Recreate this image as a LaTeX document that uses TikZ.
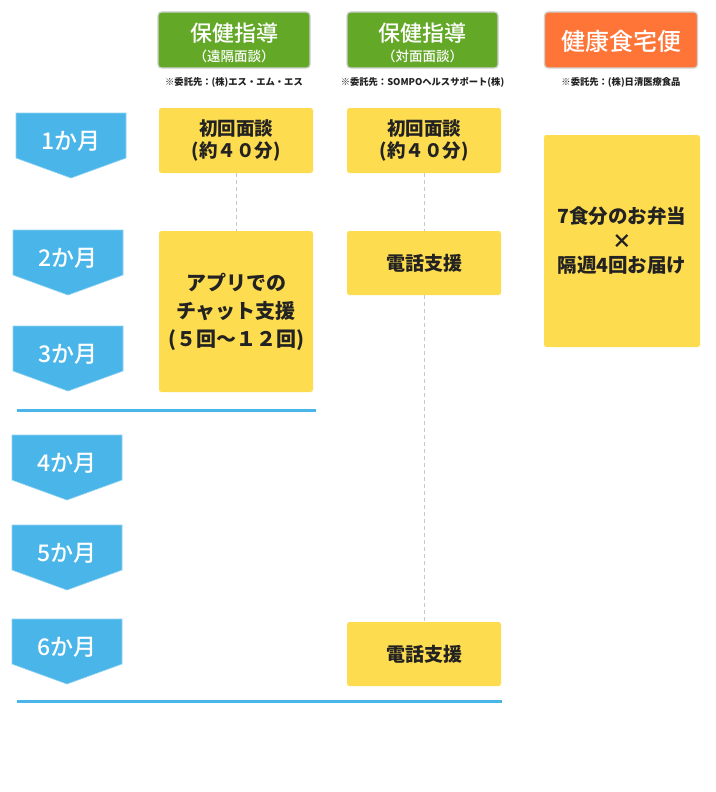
\documentclass[tikz,border=0pt]{standalone}
\usepackage{fontspec}
\setmainfont{Noto Sans CJK JP}
\newfontfamily\jpmed{Noto Sans CJK JP}[UprightFont=* Medium]
\definecolor{mblue}{HTML}{4AB5E8}
\definecolor{hgreen}{HTML}{63A827}
\definecolor{horange}{HTML}{FF7537}
\definecolor{byellow}{HTML}{FEDC50}
\definecolor{btext}{HTML}{222222}
\definecolor{hborder}{HTML}{D0D0D0}
\definecolor{dashgray}{HTML}{C8C8C8}
\newcommand\monthshape[4]{%
  \fill[mblue,draw=mblue!60!white,line width=0.6pt] (#2,#3) -- ++(110,0) -- ++(0,45) -- ++(-55,20) -- ++(-55,-20) -- cycle;
  \node[monthtext] (#1) at (#2+55,#3+28) {#4};}
\begin{document}
\begin{tikzpicture}[x=1pt,y=-1pt,
  ybox/.style={fill=byellow,rounded corners=2.5pt,inner sep=0pt,text=btext,align=center},
  hbox/.style={rounded corners=3.5pt,draw=hborder,line width=1.2pt,inner sep=0pt,minimum height=56pt},
  htitle/.style={text=white,inner sep=0pt,font=\fontsize{22}{25}\selectfont\jpmed},
  hsub/.style={text=white,inner sep=0pt,font=\fontsize{13.5}{15}\selectfont\jpmed},
  fnote/.style={text=btext,inner sep=0pt,font=\fontsize{9.3}{11}\selectfont\bfseries},
  monthtext/.style={text=white,inner sep=0pt,font=\fontsize{23}{26}\selectfont\jpmed},
  dconn/.style={draw=dashgray,line width=0.8pt,dash pattern=on 4pt off 3pt},
  bline/.style={draw=mblue,line width=3pt}]
\useasboundingbox[fill=white] (0,0) rectangle (715,792);
% headers
\node[hbox,fill=hgreen,minimum width=152pt] (h1) at (234,40) {};
\node[htitle] (h1t) at (234,33) {保健指導};
\node[hsub] (h1s) at (234,56) {（遠隔面談）};
\node[hbox,fill=hgreen,minimum width=151pt] (h2) at (422.5,40) {};
\node[htitle] (h2t) at (422.5,33) {保健指導};
\node[hsub] (h2s) at (422.5,56) {（対面面談）};
\node[hbox,fill=horange,minimum width=153pt] (h3) at (621,40) {};
\node[htitle,font=\fontsize{24}{27}\selectfont\jpmed] (h3t) at (621,41) {健康食宅便};
\node[fnote] (f1) at (234,82) {※委託先：(株)エス・エム・エス};
\node[fnote] (f2) at (422.5,82) {※委託先：SOMPOヘルスサポート(株)};
\node[fnote] (f3) at (621,82) {※委託先：(株)日清医療食品};
% months
\monthshape{m1}{16}{113}{1か月}
\monthshape{m2}{13}{230}{2か月}
\monthshape{m3}{13}{326}{3か月}
\monthshape{m4}{12}{435}{4か月}
\monthshape{m5}{12}{525}{5か月}
\monthshape{m6}{12}{619}{6か月}
% yellow boxes
\node[ybox,minimum width=154pt,minimum height=65pt,font=\fontsize{18.5}{22}\selectfont\bfseries] (c1a) at (236,140.5) {初回面談\\(約４０分)};
\node[ybox,minimum width=154pt,minimum height=65pt,font=\fontsize{18.5}{22}\selectfont\bfseries] (c2a) at (424,140.5) {初回面談\\(約４０分)};
\node[ybox,minimum width=154pt,minimum height=161pt,font=\fontsize{20}{28}\selectfont\bfseries] (app) at (236,311.5) {アプリでの\\チャット支援\\(５回〜１２回)};
\node[ybox,minimum width=154pt,minimum height=64pt,font=\fontsize{19}{22}\selectfont\bfseries] (tel1) at (424,263) {電話支援};
\node[ybox,minimum width=154pt,minimum height=64pt,font=\fontsize{19}{22}\selectfont\bfseries] (tel2) at (424,654) {電話支援};
\node[ybox,minimum width=156pt,minimum height=212pt,font=\fontsize{19.5}{24.5}\selectfont\bfseries] (meal) at (622,241) {7食分のお弁当\\×\\隔週4回お届け};
% dashed connectors
\draw[dconn] (c1a.south) -- (app.north);
\draw[dconn] (c2a.south) -- (tel1.north);
\draw[dconn] (tel1.south) -- (tel2.north);
% blue separator lines
\coordinate (l1a) at (17,410);
\coordinate (l1b) at (316,410);
\coordinate (l2a) at (17,701);
\coordinate (l2b) at (502,701);
\draw[bline] (l1a) -- (l1b);
\draw[bline] (l2a) -- (l2b);
\end{tikzpicture}
\end{document}
